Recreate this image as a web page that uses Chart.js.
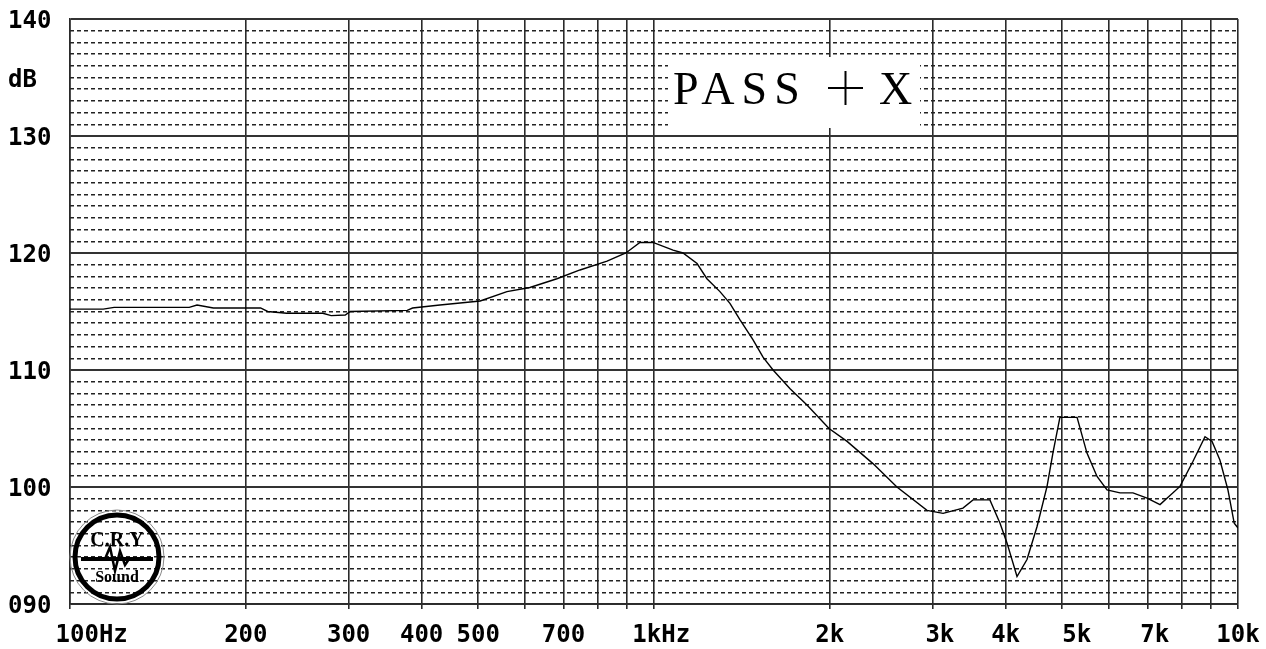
<!DOCTYPE html>
<html>
<head>
<meta charset="utf-8">
<script src="https://cdn.jsdelivr.net/npm/chart.js@4.4.1/dist/chart.umd.min.js"></script>
<style>
  html, body { margin: 0; padding: 0; background: #fff; }
  #wrap { width: 1266px; height: 649px; }
</style>
</head>
<body>
<div id="wrap"><canvas id="freqChart"></canvas></div>
<script>
const freqs = [100, 114, 119, 160, 165, 176, 212, 218, 235, 271, 280, 296, 302, 378, 386, 430, 504, 560, 613, 682, 747, 831, 895, 946, 996,
               1078, 1121, 1185, 1232, 1297, 1349, 1403, 1477, 1537, 1599, 1710, 1828, 1994, 2141, 2371, 2606, 2934, 3126, 3381, 3518, 3760,
               3913, 4023, 4184, 4352, 4527, 4710, 4820, 4955, 5302, 5513, 5736, 5967, 6280, 6609, 6987, 7353, 7955, 8375, 8780, 9028, 9311,
               9611, 9853, 10000];
const levels = [115.2, 115.2, 115.35, 115.35, 115.55, 115.3, 115.3, 115.0, 114.85, 114.85, 114.65, 114.7, 115.0, 115.1, 115.3, 115.55,
                115.9, 116.7, 117.05, 117.8, 118.55, 119.3, 120.0, 120.9, 120.9, 120.25, 120.0, 119.1, 117.8, 116.7, 115.7, 114.3, 112.6,
                111.1, 110.0, 108.4, 107.0, 105.0, 103.9, 102.0, 100.0, 98.0, 97.75, 98.2, 98.9, 98.9, 96.9, 95.2, 92.35, 93.8, 96.6,
                100.05, 102.9, 105.95, 105.95, 102.9, 100.9, 99.75, 99.5, 99.5, 99.05, 98.5, 100.05, 102.2, 104.3, 103.9, 102.3, 99.75,
                96.9, 96.5];

// Axis ticks
const gridFreqs = [100, 200, 300, 400, 500, 600, 700, 800, 900, 1000, 2000, 3000, 4000, 5000, 6000, 7000, 8000, 9000, 10000];
const freqLabels = ["   100Hz", "200", "300", "400", "500", "", "700", "", "", " 1kHz", "2k", " 3k", "4k", "  5k", "", " 7k", "", "", "10k"];
const levelTicks = [90, 100, 110, 120, 130, 135, 140];
const levelLabels = ["090", "100", "110", "120", "130", "dB", "140"];

const tickFont = { family: "'DejaVu Sans Mono'", size: 24, weight: "bold" };

// Title box and maker logo
const overlayPlugin = {
    id: "overlay",
    afterDatasetsDraw(chart) {
        const ctx = chart.ctx;
        ctx.save();
        // white label box
        ctx.fillStyle = "#fff";
        ctx.fillRect(668, 57, 252, 71);
        ctx.fillStyle = "#000";
        ctx.strokeStyle = "#000";
        ctx.font = "46px 'Liberation Serif'";
        ctx.textBaseline = "alphabetic";
        ctx.textAlign = "left";
        if ("letterSpacing" in ctx) ctx.letterSpacing = "7px";
        ctx.fillText("PASS", 673, 104);
        if ("letterSpacing" in ctx) ctx.letterSpacing = "0px";
        ctx.lineWidth = 2;
        ctx.beginPath();
        ctx.moveTo(828, 88); ctx.lineTo(863, 88);
        ctx.moveTo(845.5, 71); ctx.lineTo(845.5, 105);
        ctx.stroke();
        ctx.fillText("X", 879, 104);

        // logo
        const cx = 117, cy = 557;
        ctx.strokeStyle = "#888";
        ctx.lineWidth = 1;
        ctx.beginPath();
        ctx.arc(cx, cy, 47, 0, Math.PI * 2);
        ctx.stroke();
        ctx.strokeStyle = "#000";
        ctx.lineWidth = 5;
        ctx.beginPath();
        ctx.arc(cx, cy, 42, 0, Math.PI * 2);
        ctx.stroke();

        ctx.textAlign = "center";
        ctx.textBaseline = "middle";
        ctx.font = "bold 20px 'Liberation Serif'";
        ctx.fillText("C.R.Y", cx, cy - 16);

        ctx.lineWidth = 4;
        ctx.beginPath();
        ctx.moveTo(cx - 36, cy + 2);
        ctx.lineTo(cx + 36, cy + 2);
        ctx.stroke();
        ctx.lineWidth = 2.5;
        ctx.beginPath();
        ctx.moveTo(cx - 12, cy + 2);
        ctx.lineTo(cx - 7, cy - 10);
        ctx.lineTo(cx - 2, cy + 14);
        ctx.lineTo(cx + 3, cy - 6);
        ctx.lineTo(cx + 8, cy + 8);
        ctx.lineTo(cx + 12, cy + 2);
        ctx.stroke();

        ctx.font = "bold 16px 'Liberation Serif'";
        ctx.fillText("Sound", cx, cy + 21);
        ctx.restore();
    }
};

new Chart(document.getElementById("freqChart"), {
    type: "line",
    data: {
        datasets: [{
            data: freqs.map((f, i) => ({ x: f, y: levels[i] })),
            borderColor: "#000",
            borderWidth: 1.4,
            pointRadius: 0,
            tension: 0,
            fill: false
        }]
    },
    options: {
        responsive: true,
        maintainAspectRatio: false,
        animation: false,
        layout: { padding: { left: 8, right: 28, top: 19, bottom: 0 } },
        plugins: { legend: { display: false }, tooltip: { enabled: false } },
        scales: {
            x: {
                type: "logarithmic",
                min: 100,
                max: 10000,
                afterBuildTicks: (scale) => { scale.ticks = gridFreqs.map(v => ({ value: v })); },
                afterFit: (scale) => { scale.height = 45; scale.paddingRight = 0; scale.paddingLeft = 0; },
                ticks: {
                    autoSkip: false,
                    maxRotation: 0,
                    padding: 12,
                    color: "#000",
                    font: tickFont,
                    callback: (value, index) => freqLabels[index]
                },
                grid: { color: "#2a2a2a", lineWidth: 1.6, tickLength: 5, tickColor: "#2a2a2a" },
                border: { color: "#2a2a2a", width: 1.6 }
            },
            yMinor: {
                type: "linear",
                position: "left",
                min: 90,
                max: 140,
                afterFit: (scale) => { scale.width = 0; },
                ticks: { display: false, stepSize: 1 },
                grid: {
                    drawTicks: false,
                    lineWidth: 1.6,
                    color: (c) => (c.tick && c.tick.value % 10 === 0) ? "rgba(0,0,0,0)" : "#222"
                },
                border: { display: false, dash: [4, 3] }
            },
            y: {
                type: "linear",
                position: "left",
                min: 90,
                max: 140,
                afterBuildTicks: (scale) => { scale.ticks = levelTicks.map(v => ({ value: v })); },
                afterFit: (scale) => { scale.width = 62; },
                ticks: {
                    autoSkip: false,
                    crossAlign: "far",
                    labelOffset: 3,
                    color: "#000",
                    font: tickFont,
                    callback: (value, index) => levelLabels[index]
                },
                grid: {
                    drawTicks: false,
                    lineWidth: 2,
                    color: (c) => (c.tick && c.tick.value === 135) ? "rgba(0,0,0,0)" : "#333"
                },
                border: { color: "#2a2a2a", width: 1.6 }
            }
        }
    },
    plugins: [overlayPlugin]
});
</script>
</body>
</html>
